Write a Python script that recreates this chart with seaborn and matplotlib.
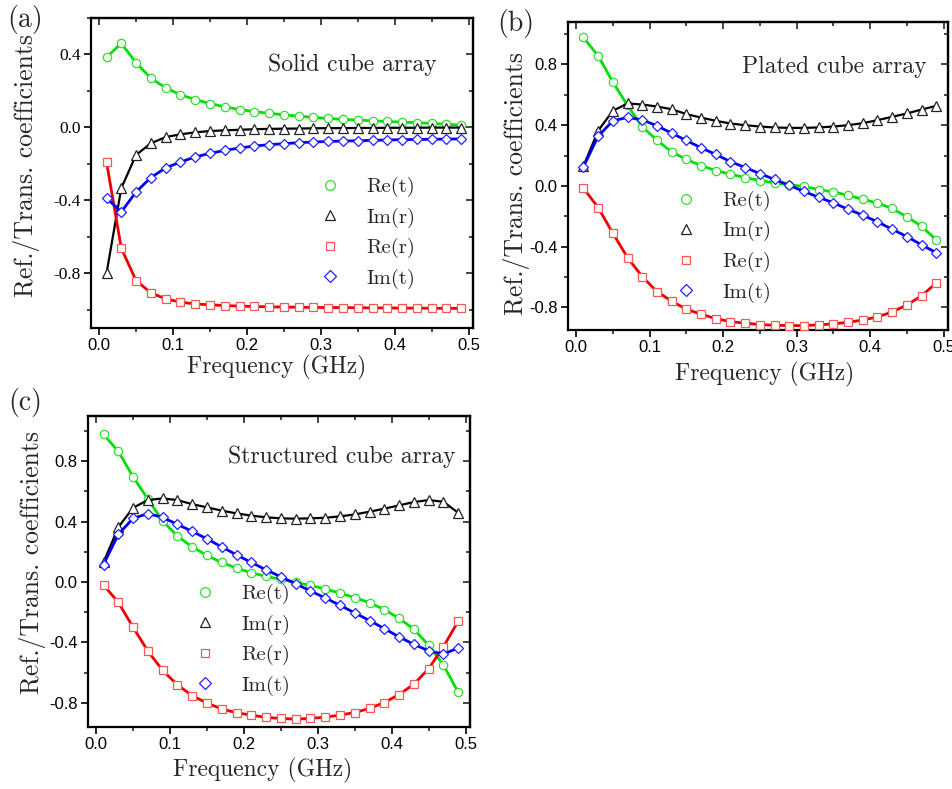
import matplotlib
matplotlib.use("Agg")
import matplotlib.pyplot as plt
import seaborn as sns
from matplotlib.lines import Line2D
from matplotlib.ticker import MultipleLocator, FormatStrFormatter

# ---------------- data ----------------
freq = [0.01, 0.03, 0.05, 0.07, 0.09, 0.11, 0.13, 0.15, 0.17, 0.19, 0.21, 0.23, 0.25,
        0.27, 0.29, 0.31, 0.33, 0.35, 0.37, 0.39, 0.41, 0.43, 0.45, 0.47, 0.49]

series_names = ["Re(t)", "Im(r)", "Re(r)", "Im(t)"]
panel_titles = ["Solid cube array", "Plated cube array", "Structured cube array"]
panel_tags = ["(a)", "(b)", "(c)"]
xlabel = "Frequency (GHz)"
ylabel = "Ref./Trans. coefficients"

# (a) Solid cube array
a_re_t = [0.385, 0.461, 0.354, 0.270, 0.217, 0.179, 0.153, 0.131, 0.113, 0.098, 0.087, 0.077, 0.069,
          0.062, 0.055, 0.049, 0.044, 0.040, 0.036, 0.033, 0.029, 0.026, 0.022, 0.018, 0.012]
a_im_r = [-0.800, -0.333, -0.151, -0.087, -0.053, -0.038, -0.027, -0.020, -0.016, -0.013, -0.010, -0.008, -0.007,
          -0.006, -0.005, -0.004, -0.004, -0.003, -0.003, -0.002, -0.002, -0.002, -0.001, -0.001, -0.001]
a_re_r = [-0.190, -0.663, -0.840, -0.907, -0.940, -0.958, -0.968, -0.973, -0.977, -0.980, -0.982, -0.984, -0.985,
          -0.986, -0.987, -0.988, -0.988, -0.989, -0.990, -0.990, -0.991, -0.991, -0.992, -0.992, -0.993]
a_im_t = [-0.388, -0.463, -0.354, -0.275, -0.222, -0.190, -0.162, -0.142, -0.126, -0.113, -0.102, -0.095, -0.089,
          -0.084, -0.080, -0.077, -0.075, -0.073, -0.071, -0.069, -0.067, -0.066, -0.065, -0.064, -0.063]

# (b) Plated cube array
b_re_t = [0.978, 0.857, 0.684, 0.530, 0.390, 0.301, 0.224, 0.174, 0.134, 0.101, 0.077, 0.055, 0.035,
          0.020, 0.007, -0.004, -0.024, -0.040, -0.062, -0.088, -0.114, -0.149, -0.204, -0.266, -0.356]
b_im_r = [0.130, 0.363, 0.495, 0.543, 0.536, 0.523, 0.505, 0.473, 0.450, 0.429, 0.411, 0.400, 0.391,
          0.385, 0.382, 0.382, 0.385, 0.391, 0.400, 0.413, 0.433, 0.455, 0.477, 0.503, 0.527]
b_re_r = [-0.015, -0.143, -0.312, -0.473, -0.598, -0.697, -0.760, -0.813, -0.846, -0.875, -0.895, -0.905, -0.914,
          -0.919, -0.921, -0.921, -0.916, -0.910, -0.899, -0.884, -0.864, -0.831, -0.785, -0.725, -0.640]
b_im_t = [0.125, 0.327, 0.429, 0.451, 0.435, 0.396, 0.347, 0.299, 0.251, 0.207, 0.160, 0.121, 0.081,
          0.042, 0.004, -0.037, -0.075, -0.112, -0.154, -0.193, -0.237, -0.286, -0.334, -0.389, -0.440]

# (c) Structured cube array
c_re_t = [0.978, 0.866, 0.697, 0.550, 0.404, 0.305, 0.233, 0.176, 0.130, 0.092, 0.062, 0.037, 0.018,
          -0.002, -0.022, -0.046, -0.073, -0.103, -0.136, -0.182, -0.240, -0.312, -0.418, -0.549, -0.730]
c_im_r = [0.130, 0.363, 0.492, 0.543, 0.554, 0.543, 0.516, 0.495, 0.473, 0.455, 0.440, 0.429, 0.422,
          0.420, 0.422, 0.426, 0.435, 0.448, 0.466, 0.486, 0.508, 0.530, 0.543, 0.532, 0.459]
c_re_r = [-0.020, -0.134, -0.299, -0.457, -0.585, -0.681, -0.752, -0.802, -0.840, -0.866, -0.881, -0.897, -0.903,
          -0.908, -0.903, -0.895, -0.881, -0.864, -0.837, -0.798, -0.745, -0.677, -0.574, -0.429, -0.259]
c_im_t = [0.116, 0.316, 0.422, 0.453, 0.429, 0.382, 0.336, 0.286, 0.233, 0.180, 0.130, 0.081, 0.035,
          -0.011, -0.059, -0.105, -0.154, -0.204, -0.255, -0.308, -0.363, -0.413, -0.455, -0.477, -0.437]

panels = [
    [a_re_t, a_im_r, a_re_r, a_im_t],
    [b_re_t, b_im_r, b_re_r, b_im_t],
    [c_re_t, c_im_r, c_re_r, c_im_t],
]

# ---------------- style ----------------
sns.set_style("ticks")
plt.rcParams["font.family"] = ["Liberation Sans", "DejaVu Sans"]
plt.rcParams["axes.unicode_minus"] = False
SERIF = ["cmr10", "DejaVu Serif"]

line_colors = ["#00e000", "#000000", "#ee0000", "#0000ee"]
marker_edges = ["#33dd33", "#222222", "#ff5555", "#2222ff"]
markers = ["o", "^", "s", "D"]
msizes = [6.0, 6.5, 5.3, 5.0]
lwidths = [2.0, 1.6, 2.0, 2.0]

fig = plt.figure(figsize=(9.53, 7.89), dpi=100)
W, H = 953.0, 789.0

# axes boxes in pixels: left, top, right, bottom
boxes = [(91, 18, 473, 328), (568, 22, 948, 330), (88, 416, 470, 727)]
ylims = [(-1.10, 0.60), (-0.95, 1.08), (-0.96, 1.10)]
ymajor = 0.4
legend_anchor = [(0.598, 0.487), (0.283, 0.452), (0.279, 0.46)]
title_pos = [(0.906, 0.848), (0.945, 0.854), (0.961, 0.868)]
tag_pos = [(25, 20), (516, 24), (25, 403)]
ylabel_pos = [(-0.134, 0.525), (-0.1, 0.477), (-0.11, 0.53)]
xlabel_pos = [(0.487, -0.088), (0.518, -0.103), (0.458, -0.1)]
ytick_serif = [True, False, False]

for p, (box, data) in enumerate(zip(boxes, panels)):
    l, t, r, b = box
    ax = fig.add_axes([l / W, 1 - b / H, (r - l) / W, (b - t) / H])
    for k in range(4):
        sns.lineplot(x=freq, y=data[k], ax=ax, color=line_colors[k], lw=lwidths[k],
                     marker=markers[k], markersize=msizes[k], markerfacecolor="white",
                     markeredgecolor=marker_edges[k], markeredgewidth=0.9, legend=False,
                     zorder=3 + k)
    ax.set_xlim(-0.011, 0.506)
    ax.set_ylim(*ylims[p])
    ax.xaxis.set_major_locator(MultipleLocator(0.1))
    ax.xaxis.set_minor_locator(MultipleLocator(0.05))
    ax.yaxis.set_major_locator(MultipleLocator(ymajor))
    ax.yaxis.set_minor_locator(MultipleLocator(0.2))
    ax.xaxis.set_major_formatter(FormatStrFormatter("%.1f"))
    ax.yaxis.set_major_formatter(FormatStrFormatter("%.1f"))
    for s in ax.spines.values():
        s.set_visible(True)
        s.set_linewidth(1.6)
        s.set_color("black")
    ax.tick_params(which="major", direction="out", length=5, width=1.2, labelsize=12,
                   pad=2.5, colors="black")
    ax.tick_params(which="minor", direction="out", length=2.8, width=1.2)
    if ytick_serif[p]:
        ax.tick_params(axis="y", which="major", labelfontfamily="Liberation Serif",
                       labelsize=12.5)
    # mirrored ticks on top/right pointing inwards
    sx = ax.secondary_xaxis("top")
    sx.xaxis.set_major_locator(MultipleLocator(0.1))
    sx.xaxis.set_minor_locator(MultipleLocator(0.05))
    sx.tick_params(which="major", direction="in", length=5, width=1.2, labeltop=False)
    sx.tick_params(which="minor", direction="in", length=2.8, width=1.2)
    sx.spines["top"].set_linewidth(1.6)
    sy = ax.secondary_yaxis("right")
    sy.yaxis.set_major_locator(MultipleLocator(ymajor))
    sy.yaxis.set_minor_locator(MultipleLocator(0.2))
    sy.tick_params(which="major", direction="in", length=5, width=1.2, labelright=False)
    sy.tick_params(which="minor", direction="in", length=2.8, width=1.2)
    sy.spines["right"].set_linewidth(1.6)

    ax.set_xlabel(xlabel, family=SERIF, fontsize=17)
    ax.set_ylabel(ylabel, family=SERIF, fontsize=18.5)
    ax.xaxis.set_label_coords(*xlabel_pos[p])
    ax.yaxis.set_label_coords(*ylabel_pos[p])

    ax.text(title_pos[p][0], title_pos[p][1], panel_titles[p], transform=ax.transAxes,
            ha="right", va="center", family=SERIF, fontsize=17)

    handles = [Line2D([], [], ls="none", marker=markers[k], markersize=msizes[k] + 1.0,
                      markerfacecolor="white", markeredgecolor=marker_edges[k],
                      markeredgewidth=0.9) for k in range(4)]
    ax.legend(handles, series_names, loc="upper left", bbox_to_anchor=legend_anchor[p],
              frameon=False, prop={"family": SERIF, "size": 15}, handlelength=1.0,
              handletextpad=1.25, labelspacing=0.5, borderpad=0, borderaxespad=0)

    fig.text(tag_pos[p][0] / W, 1 - tag_pos[p][1] / H, panel_tags[p], ha="center",
             va="center", family=SERIF, fontsize=20)

fig.savefig("out.png", dpi=100)
